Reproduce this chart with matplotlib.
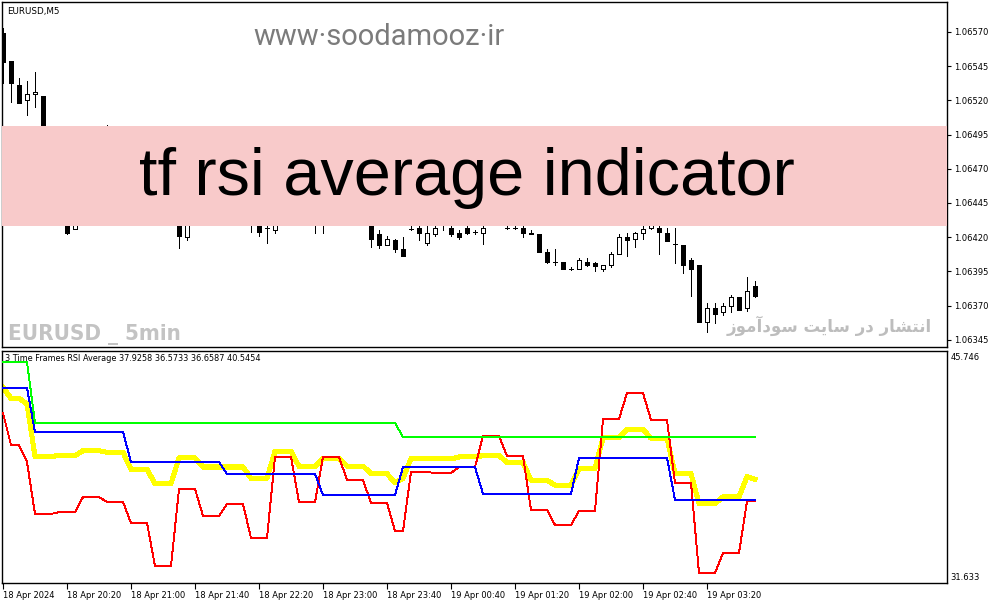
import matplotlib
matplotlib.use("Agg")
import matplotlib.pyplot as plt
import numpy as np
from matplotlib import font_manager
from matplotlib.patches import Rectangle

# ---- price data (EURUSD M5), one entry per bar ----
OPEN = [1.06569, 1.06549, 1.06531, 1.06520, 1.06525, 1.06523, 1.06476, 1.06455, 1.06436, 1.06426,
        1.06436, 1.06451, 1.06469, 1.06491, 1.06484, 1.06473, 1.06480, 1.06465, 1.06455, 1.06462,
        1.06447, 1.06438, 1.06436, 1.06420, 1.06436, 1.06447, 1.06440, 1.06451, 1.06444, 1.06455,
        1.06440, 1.06444, 1.06436, 1.06427, 1.06425, 1.06431, 1.06440, 1.06434, 1.06444, 1.06436,
        1.06440, 1.06434, 1.06444, 1.06436, 1.06447, 1.06440, 1.06434, 1.06422, 1.06414, 1.06418,
        1.06411, 1.06426, 1.06427, 1.06416, 1.06422, 1.06433, 1.06427, 1.06423, 1.06427, 1.06424,
        1.06423, 1.06436, 1.06433, 1.06427, 1.06427, 1.06427, 1.06423, 1.06422, 1.06409, 1.06402,
        1.06402, 1.06397, 1.06397, 1.06402, 1.06401, 1.06397, 1.06400, 1.06408, 1.06420, 1.06419,
        1.06423, 1.06427, 1.06427, 1.06423, 1.06415, 1.06414, 1.06403, 1.06400, 1.06358, 1.06368,
        1.06365, 1.06370, 1.06376, 1.06368, 1.06384]
HIGH = [1.06573, 1.06549, 1.06536, 1.06534, 1.06541, 1.06523, 1.06484, 1.06473, 1.06440, 1.06436,
        1.06455, 1.06473, 1.06495, 1.06502, 1.06487, 1.06484, 1.06484, 1.06469, 1.06465, 1.06465,
        1.06451, 1.06447, 1.06440, 1.06440, 1.06451, 1.06450, 1.06455, 1.06455, 1.06458, 1.06457,
        1.06449, 1.06447, 1.06438, 1.06436, 1.06436, 1.06444, 1.06444, 1.06447, 1.06447, 1.06444,
        1.06444, 1.06447, 1.06449, 1.06451, 1.06450, 1.06444, 1.06437, 1.06425, 1.06421, 1.06419,
        1.06420, 1.06429, 1.06430, 1.06428, 1.06431, 1.06436, 1.06429, 1.06425, 1.06430, 1.06425,
        1.06431, 1.06440, 1.06441, 1.06430, 1.06429, 1.06431, 1.06425, 1.06422, 1.06411, 1.06411,
        1.06402, 1.06398, 1.06405, 1.06405, 1.06402, 1.06400, 1.06409, 1.06422, 1.06423, 1.06424,
        1.06429, 1.06433, 1.06433, 1.06427, 1.06427, 1.06414, 1.06405, 1.06400, 1.06372, 1.06372,
        1.06372, 1.06378, 1.06376, 1.06391, 1.06388]
LOW = [1.06533, 1.06519, 1.06518, 1.06509, 1.06515, 1.06469, 1.06447, 1.06449, 1.06422, 1.06426,
       1.06433, 1.06447, 1.06465, 1.06478, 1.06469, 1.06468, 1.06462, 1.06451, 1.06450, 1.06444,
       1.06434, 1.06433, 1.06412, 1.06418, 1.06433, 1.06435, 1.06437, 1.06440, 1.06438, 1.06436,
       1.06431, 1.06424, 1.06421, 1.06416, 1.06423, 1.06430, 1.06431, 1.06432, 1.06433, 1.06423,
       1.06423, 1.06431, 1.06433, 1.06434, 1.06436, 1.06430, 1.06413, 1.06412, 1.06414, 1.06409,
       1.06406, 1.06425, 1.06418, 1.06414, 1.06421, 1.06425, 1.06421, 1.06419, 1.06422, 1.06422,
       1.06415, 1.06430, 1.06430, 1.06426, 1.06426, 1.06420, 1.06422, 1.06409, 1.06401, 1.06400,
       1.06397, 1.06396, 1.06397, 1.06399, 1.06395, 1.06395, 1.06398, 1.06408, 1.06406, 1.06413,
       1.06419, 1.06426, 1.06408, 1.06417, 1.06401, 1.06394, 1.06377, 1.06358, 1.06351, 1.06357,
       1.06363, 1.06365, 1.06367, 1.06366, 1.06376]
CLOSE = [1.06548, 1.06533, 1.06518, 1.06525, 1.06526, 1.06476, 1.06455, 1.06465, 1.06423, 1.06431,
         1.06451, 1.06469, 1.06491, 1.06484, 1.06473, 1.06480, 1.06465, 1.06455, 1.06462, 1.06447,
         1.06438, 1.06444, 1.06421, 1.06436, 1.06447, 1.06440, 1.06451, 1.06444, 1.06455, 1.06440,
         1.06444, 1.06436, 1.06424, 1.06427, 1.06431, 1.06440, 1.06434, 1.06444, 1.06436, 1.06440,
         1.06434, 1.06444, 1.06436, 1.06447, 1.06440, 1.06434, 1.06419, 1.06414, 1.06419, 1.06411,
         1.06406, 1.06426, 1.06423, 1.06423, 1.06427, 1.06430, 1.06422, 1.06420, 1.06423, 1.06424,
         1.06427, 1.06433, 1.06438, 1.06427, 1.06427, 1.06423, 1.06422, 1.06409, 1.06402, 1.06402,
         1.06397, 1.06397, 1.06403, 1.06400, 1.06399, 1.06400, 1.06408, 1.06420, 1.06418, 1.06423,
         1.06426, 1.06429, 1.06424, 1.06417, 1.06415, 1.06400, 1.06397, 1.06358, 1.06368, 1.06364,
         1.06370, 1.06376, 1.06367, 1.06381, 1.06377]

PRICE_TICKS = [1.06345, 1.06370, 1.06395, 1.06420, 1.06445, 1.06470,
               1.06495, 1.06520, 1.06545, 1.06570]

# ---- RSI lines, written as (level, number of bars at that level) ----
AVG_LEVELS = [43.60, 42.94, 42.59, 39.35, 39.39, 39.70, 39.60, 38.54, 37.66, 39.25,
              38.69, 38.69, 37.99, 39.66, 38.73, 39.23, 38.75, 38.28, 37.70, 37.99,
              39.21, 39.19, 39.31, 39.39, 38.98, 37.87, 37.56, 38.59, 40.49, 41.02,
              40.47, 38.28, 36.42, 36.84, 38.10, 37.93]
AVG_RUNS = [1, 2, 1] + [3] * 15 + [1, 1] + [3] * 14 + [1, 1]

RED_LEVELS = [42.03, 40.05, 39.00, 35.78, 35.90, 36.83, 36.52, 35.22, 32.56, 37.33,
              35.66, 36.40, 34.29, 39.31, 36.52, 39.31, 37.88, 36.46, 34.73, 38.38,
              38.32, 38.69, 40.61, 39.37, 36.03, 35.10, 35.97, 41.66, 43.27, 41.60,
              37.70, 32.13, 33.37, 36.57]
RED_RUNS = [1, 2, 1] + [3] * 15 + [2] + [3] * 14 + [2]

BLUE_LEVELS = [43.58, 40.86, 39.00, 38.26, 36.96, 38.69, 37.02, 39.25, 36.66]
BLUE_RUNS = [4, 12, 12, 12, 10, 10, 12, 12, 11]

GREEN_LEVELS = [45.19, 41.41, 40.55]
GREEN_RUNS = [4, 46, 45]

RSI_MAX, RSI_MIN = 45.746, 31.633

TIME_LABELS = ["18 Apr 2024", "18 Apr 20:20", "18 Apr 21:00", "18 Apr 21:40",
               "18 Apr 22:20", "18 Apr 23:00", "18 Apr 23:40", "19 Apr 00:40",
               "19 Apr 01:20", "19 Apr 02:00", "19 Apr 02:40", "19 Apr 03:20"]
TIME_LABEL_BARS = [0, 8, 16, 24, 32, 40, 48, 56, 64, 72, 80, 88]

BAND_TEXT = "tf rsi average indicator"
SITE_TEXT = "www\u00b7soodamooz\u00b7ir"
SYMBOL_TEXT = "EURUSD _ 5min"
# "انتشار در سایت سودآموز" in Arabic presentation forms, visual order
PERSIAN_TEXT = ("\uFEAF\uFEEE\uFEE3\uFE81\uFEA9\uFEEE\uFEB3 \uFE96\uFEF3\uFE8E\uFEB3 "
                "\uFEAD\uFEA9 \uFEAD\uFE8E\uFEB8\uFE98\uFEE7\uFE8D")

W, H = 994, 605


def fx(px):
    return px / W


def fy(py):
    return 1 - py / H


def symbol_font():
    """Pick the narrowest bold face on hand for the grey EURUSD watermark."""
    fonts = font_manager.fontManager.ttflist
    names = {f.name for f in fonts}
    if "Liberation Sans Narrow" in names:
        return dict(family="Liberation Sans Narrow", fontsize=18.5)
    if any(f.name == "DejaVu Sans" and "condensed" in str(f.stretch) for f in fonts):
        return dict(family="DejaVu Sans", fontstretch="condensed", fontsize=16)
    return dict(family="DejaVu Sans", fontsize=15)


def main():
    plt.rcParams["font.family"] = "DejaVu Sans"
    fig = plt.figure(figsize=(W / 100, H / 100), dpi=100)

    x = np.arange(len(OPEN))
    o, h, l, c = map(np.array, (OPEN, HIGH, LOW, CLOSE))
    xlim = (-0.125, 118.0)

    # ---------------- price panel ----------------
    ax = fig.add_axes([fx(2), fy(347), fx(947) - fx(2), fy(2) - fy(347)])
    ax.vlines(x, l, h, color="black", lw=0.68, antialiased=False, zorder=2)
    bear = c < o
    ax.bar(x, np.abs(c - o), bottom=np.minimum(o, c), width=0.6,
           color=np.where(bear, "black", "white"), edgecolor="black",
           linewidth=0.68, antialiased=False, zorder=3)
    ax.set_xlim(*xlim)
    ax.set_ylim(1.063397, 1.065919)
    ax.set_xticks([])
    ax.yaxis.tick_right()
    ax.set_yticks(PRICE_TICKS)
    ax.set_yticklabels([f"{p:.5f}" for p in PRICE_TICKS])
    ax.tick_params(axis="y", length=3, width=0.8, labelsize=6, pad=2)
    for s in ax.spines.values():
        s.set_linewidth(1.0)

    ax.text(0.005, 0.985, "EURUSD,M5", transform=ax.transAxes, fontsize=6.3,
            ha="left", va="top")
    # pink overlay band
    ax.add_patch(Rectangle((0, (347 - 226) / 345), 1, 100 / 345,
                           transform=ax.transAxes, facecolor="#f8caca",
                           edgecolor="none", zorder=10))

    fig.text(fx(253), fy(45), SITE_TEXT, fontsize=21, color="#7b7b7b",
             family="Roboto", ha="left", va="baseline")
    fig.text(fx(467), fy(195), BAND_TEXT, fontsize=48, color="black",
             family="Liberation Sans", ha="center", va="baseline", zorder=20)
    fig.text(fx(8), fy(340), SYMBOL_TEXT, color="#c3c3c3", weight="bold",
             ha="left", va="baseline", **symbol_font())
    fig.text(fx(932), fy(326), PERSIAN_TEXT, fontsize=12, color="#bdbdbd",
             family="DejaVu Sans", weight="bold", ha="right", va="center")

    # ---------------- RSI panel ----------------
    ax2 = fig.add_axes([fx(2), fy(583), fx(947) - fx(2), fy(351) - fy(583)])
    avg = np.repeat(AVG_LEVELS, AVG_RUNS)
    red = np.repeat(RED_LEVELS, RED_RUNS)
    blue = np.repeat(BLUE_LEVELS, BLUE_RUNS)
    green = np.repeat(GREEN_LEVELS, GREEN_RUNS)
    ax2.plot(x, avg, color="#ffff00", lw=2.9, antialiased=False, zorder=2)
    ax2.plot(x, red, color="#ff0000", lw=0.68, antialiased=False, zorder=3)
    ax2.plot(x, blue, color="#0000ff", lw=0.68, antialiased=False, zorder=4)
    ax2.plot(x, green, color="#00ff00", lw=0.68, antialiased=False, zorder=5)
    pad = (RSI_MAX - RSI_MIN) * 2 / 228
    ax2.set_ylim(RSI_MIN - pad, RSI_MAX + pad)
    ax2.set_xlim(*xlim)
    ax2.set_yticks([])
    for s in ax2.spines.values():
        s.set_linewidth(1.0)

    ax2.text(0.003, 0.985, "3 Time Frames RSI Average 37.9258 36.5733 36.6587 40.5454",
             transform=ax2.transAxes, fontsize=5.9, ha="left", va="top")
    ax2.text(1.004, (583 - 357) / 232, f"{RSI_MAX:.3f}", transform=ax2.transAxes,
             fontsize=6, ha="left", va="center")
    ax2.text(1.004, (583 - 578) / 232, f"{RSI_MIN:.3f}", transform=ax2.transAxes,
             fontsize=6, ha="left", va="center")

    ax2.set_xticks(TIME_LABEL_BARS)
    ax2.set_xticklabels(TIME_LABELS)
    ax2.tick_params(axis="x", length=4, width=0.8, labelsize=6, pad=2)
    for lab in ax2.get_xticklabels():
        lab.set_horizontalalignment("left")

    fig.savefig("out.png", dpi=100)
    plt.close(fig)


if __name__ == "__main__":
    main()
